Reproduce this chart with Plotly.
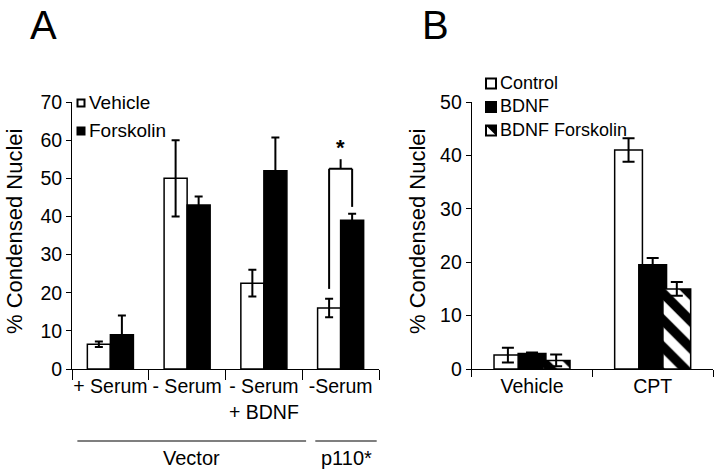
import plotly.graph_objects as go

# Panel A data
a_categories = ["+ Serum", "- Serum", "- Serum<br>+ BDNF", "-Serum"]
a_vehicle = [6.5, 50, 22.5, 16]
a_vehicle_err = [0.7, 10, 3.5, 2.4]
a_forskolin = [9, 43, 52, 39]
a_forskolin_err = [5, 2.2, 8.7, 1.7]
a_yticks = [0, 10, 20, 30, 40, 50, 60, 70]

# significance bracket on the p110* group (left foot, top, right foot, star)
sig_bracket = [21, 52.5, 42.5, 55]
sig_star = 58

# Panel B data
b_categories = ["Vehicle", "CPT"]
b_control = [2.6, 41]
b_control_err = [1.4, 2.2]
b_bdnf = [2.9, 19.5]
b_bdnf_err = [0.2, 1.3]
b_bdnf_fsk = [1.6, 15]
b_bdnf_fsk_err = [1.1, 1.3]
b_yticks = [0, 10, 20, 30, 40, 50]
b_legend = ["Control", "BDNF", "BDNF Forskolin"]

FONT = "Liberation Sans, Arial, sans-serif"
W, H = 720, 471


def px_x(p):
    return p / W


def px_y(p):
    return 1 - p / H


def err(vals, w):
    return dict(type="data", array=vals, visible=True, color="black", thickness=2, width=w)


fig = go.Figure()

line = dict(color="black", width=1.5)
fig.add_trace(go.Bar(x=a_categories, y=a_vehicle, name="Vehicle", marker=dict(color="white", line=line),
                     error_y=err(a_vehicle_err, 4), xaxis="x", yaxis="y", showlegend=False))
fig.add_trace(go.Bar(x=a_categories, y=a_forskolin, name="Forskolin", marker=dict(color="black", line=line),
                     error_y=err(a_forskolin_err, 4), xaxis="x", yaxis="y", showlegend=False))

fig.add_trace(go.Bar(x=b_categories, y=b_control, name="Control", marker=dict(color="white", line=line),
                     error_y=err(b_control_err, 6), xaxis="x2", yaxis="y2", showlegend=False))
fig.add_trace(go.Bar(x=b_categories, y=b_bdnf, name="BDNF", marker=dict(color="black", line=line),
                     error_y=err(b_bdnf_err, 6), xaxis="x2", yaxis="y2", showlegend=False))
fig.add_trace(go.Bar(x=b_categories, y=b_bdnf_fsk, name="BDNF Forskolin",
                     marker=dict(color="white", line=line,
                                 pattern=dict(shape="\\", fgcolor="black", bgcolor="white", fgopacity=1,
                                              fillmode="replace", size=19, solidity=0.5)),
                     error_y=err(b_bdnf_fsk_err, 6), xaxis="x2", yaxis="y2", showlegend=False))

ydom = [px_y(369), px_y(102)]
axis_common = dict(showline=True, linecolor="black", linewidth=1, showgrid=False, zeroline=False,
                   tickfont=dict(family=FONT, size=19.5, color="black"), automargin=False)

fig.update_layout(
    width=W, height=H,
    margin=dict(l=0, r=0, t=0, b=0),
    paper_bgcolor="white", plot_bgcolor="white",
    barmode="group",
    font=dict(family=FONT, color="black"),
    xaxis=dict(domain=[px_x(72), px_x(379)], type="category", range=[-0.5, 3.5], ticks="outside",
               ticklen=10, tickson="boundaries", tickcolor="black", anchor="y", tickangle=0, **axis_common),
    yaxis=dict(domain=ydom, range=[0, 70], tickvals=a_yticks, ticks="outside", ticklen=5,
               tickcolor="black", anchor="x", **axis_common),
    xaxis2=dict(domain=[px_x(471.7), px_x(713)], type="category", range=[-0.5, 1.5], ticks="outside",
                ticklen=7, tickson="boundaries", tickcolor="black", anchor="y2", tickangle=0, **axis_common),
    yaxis2=dict(domain=ydom, range=[0, 50], tickvals=b_yticks, ticks="outside", ticklen=5,
                tickcolor="black", anchor="x2", **axis_common),
)
fig.update_layout(bargap=0.4)
fig.update_traces(selector=dict(xaxis="x2"), width=0.23)

shapes = []
annotations = []

# significance bracket
bl = dict(color="black", width=2)
shapes.append(dict(type="line", xref="x", yref="y", x0=2.85, x1=2.85, y0=sig_bracket[0], y1=sig_bracket[1], line=bl))
shapes.append(dict(type="line", xref="x", yref="y", x0=2.85, x1=3.15, y0=sig_bracket[1], y1=sig_bracket[1], line=bl))
shapes.append(dict(type="line", xref="x", yref="y", x0=3.15, x1=3.15, y0=sig_bracket[1], y1=sig_bracket[2], line=bl))
shapes.append(dict(type="line", xref="x", yref="y", x0=3, x1=3, y0=sig_bracket[1], y1=sig_bracket[3], line=bl))
annotations.append(dict(x=3, y=sig_star, xref="x", yref="y", text="<b>*</b>", showarrow=False,
                        xanchor="center", yanchor="middle", font=dict(size=22, family=FONT)))

# group underlines and labels
for lbl, x0, x1 in [("Vector", -0.43, 2.55), ("p110*", 2.67, 3.47)]:
    shapes.append(dict(type="line", xref="x", yref="paper", x0=x0, x1=x1, y0=px_y(441), y1=px_y(441),
                       line=dict(color="black", width=1.2)))
    annotations.append(dict(x=(x0 + x1) / 2, y=px_y(458), xref="x", yref="paper", text=lbl, showarrow=False,
                            xanchor="center", yanchor="middle", font=dict(size=20, family=FONT)))

# y titles
for xc in [14, 417]:
    annotations.append(dict(x=px_x(xc), y=px_y(232), xref="paper", yref="paper", text="% Condensed Nuclei",
                            textangle=-90, showarrow=False, xanchor="center", yanchor="middle",
                            font=dict(size=22, family=FONT)))

# panel letters
for letter, xc in [("A", 43), ("B", 436)]:
    annotations.append(dict(x=px_x(xc), y=px_y(25), xref="paper", yref="paper", text=letter, showarrow=False,
                            xanchor="center", yanchor="middle", font=dict(size=40, family=FONT)))


# manual legend swatches
def swatch(cx, cy, half, fill, hatch=False):
    shapes.append(dict(type="rect", xref="paper", yref="paper", x0=px_x(cx - half), x1=px_x(cx + half),
                       y0=px_y(cy + half), y1=px_y(cy - half), fillcolor=fill,
                       line=dict(color="black", width=2)))
    if hatch:
        shapes.append(dict(type="path", xref="paper", yref="paper",
                           path=f"M {px_x(cx - half)},{px_y(cy - half)} L {px_x(cx + half)},{px_y(cy - half)} "
                                f"L {px_x(cx + half)},{px_y(cy + half)} Z",
                           fillcolor="black", line=dict(color="black", width=0)))


def label(tx, cy, text, size):
    annotations.append(dict(x=px_x(tx), y=px_y(cy), xref="paper", yref="paper", text=text, showarrow=False,
                            xanchor="left", yanchor="middle", align="left", font=dict(size=size, family=FONT)))


# panel A legend
swatch(81, 103, 3.5, "white")
swatch(81, 131, 3.5, "black")
label(87, 103, "Vehicle", 19)
label(87, 131, "Forskolin", 19)

# panel B legend (one text block, tight line spacing)
b_size = 18
step = b_size * 1.3
mid = 107
for i, fill in enumerate(["white", "black", "white"]):
    swatch(491, mid + (i - 1) * step, 5, fill, hatch=(i == 2))
label(498, mid, "<br>".join(b_legend), b_size)

fig.update_layout(shapes=shapes, annotations=annotations)

# drop the browser's default body margin so the figure sits at the window's corner
fig.write_html("out.html", config={"displayModeBar": False},
               post_script="document.body.style.margin='0';")
